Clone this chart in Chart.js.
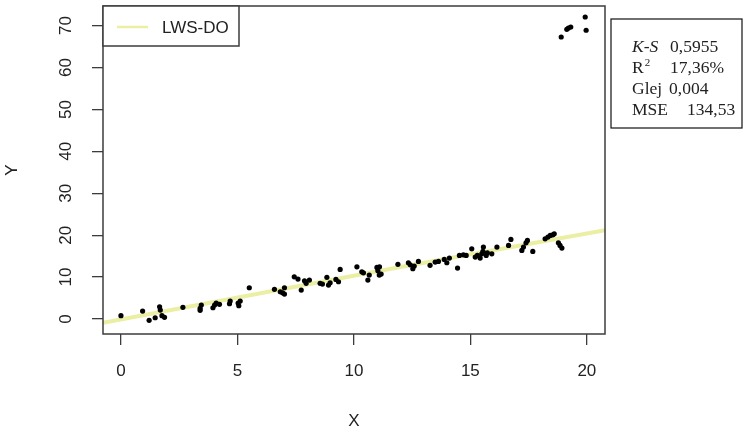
<!DOCTYPE html>
<html>
<head>
<meta charset="utf-8">
<script src="https://cdn.jsdelivr.net/npm/chart.js@4.4.1/dist/chart.umd.min.js"></script>
<style>
body { margin: 0; background: #fff; }
#grafico { display: block; }
</style>
</head>
<body>
<canvas id="grafico" width="748" height="432"></canvas>
<script>
// Pontos observados
const pontosX = [0.00, 0.93, 1.21, 1.47, 1.66, 1.69, 1.76, 1.87, 2.66, 3.40, 3.40, 3.45, 3.95, 4.02, 4.09, 4.23,
    4.66, 4.69, 5.03, 5.12, 5.06, 5.51, 6.59, 6.84, 6.94, 7.02, 7.02, 7.44, 7.60, 7.74, 7.88, 7.95, 8.09,
    8.55, 8.65, 8.84, 8.91, 8.98, 9.23, 9.34, 9.41, 10.13, 10.34, 10.41, 10.60, 10.66, 10.99, 11.03, 11.09,
    11.17, 11.10, 11.89, 12.34, 12.42, 12.53, 12.59, 12.77, 13.27, 13.49, 13.63, 13.88, 13.99, 14.10, 14.45,
    14.53, 14.70, 14.82, 15.06, 15.21, 15.30, 15.42, 15.49, 15.54, 15.56, 15.68, 15.73, 15.92, 16.14, 16.64,
    16.74, 17.21, 17.28, 17.39, 17.45, 17.68, 18.21, 18.33, 18.43, 18.54, 18.60, 18.78, 18.85, 18.93,
    18.90, 19.14, 19.21, 19.31, 19.93, 19.97];
const pontosY = [0.79, 1.90, -0.30, 0.31, 2.93, 2.14, 0.79, 0.40, 2.79, 2.55, 2.07, 3.34, 2.69, 3.34, 3.81, 3.50,
    3.65, 4.29, 3.81, 4.29, 3.17, 7.46, 7.08, 6.51, 6.27, 5.96, 7.46, 10.08, 9.53, 6.91, 9.13, 8.51, 9.29,
    8.51, 8.34, 9.94, 8.10, 8.65, 9.46, 8.89, 11.84, 12.46, 11.27, 11.03, 9.29, 10.49, 12.32, 11.51, 10.49,
    10.72, 12.46, 13.04, 13.42, 12.94, 11.99, 12.63, 13.75, 12.80, 13.58, 13.75, 14.23, 13.42, 14.54, 12.15,
    15.18, 15.32, 15.18, 16.75, 14.78, 15.18, 14.54, 15.56, 16.13, 17.16, 15.18, 15.80, 15.56, 17.16, 17.56,
    18.99, 16.37, 17.16, 18.18, 18.76, 16.13, 19.14, 19.54, 19.95, 20.09, 20.33, 18.18, 17.56, 16.92,
    67.28, 69.11, 69.42, 69.66, 72.05, 68.88];

// Curva ajustada (LWS-DO)
const ajusteX = [-0.77, 12.0, 20.78];
const ajusteY = [-0.88, 12.4, 21.2];

// Marcas dos eixos
const ticksX = [0, 5, 10, 15, 20];
const ticksY = [0, 10, 20, 30, 40, 50, 60, 70];

// Quadro de estatísticas
const estatNomes = ['K-S', 'R', 'Glej', 'MSE'];
const estatValores = ['0,5955', '17,36%', '0,004', '134,53'];

const corEixo = '#3c3c3c';
const corTexto = '#222';
const corAjuste = '#ebefa4';
const fonteSans = "'Liberation Sans', Arial, sans-serif";
const fonteSerif = "'Liberation Serif', 'Times New Roman', serif";

// Moldura da área do gráfico
const moldura = {
    id: 'moldura',
    afterDraw(chart) {
        const { ctx, chartArea: a } = chart;
        ctx.save();
        ctx.strokeStyle = corEixo;
        ctx.lineWidth = 1.5;
        ctx.strokeRect(a.left, a.top, a.right - a.left, a.bottom - a.top);
        ctx.restore();
    }
};

// Legenda dentro do gráfico, canto superior esquerdo
const legenda = {
    id: 'legenda',
    afterDraw(chart) {
        const { ctx, chartArea: a } = chart;
        const ds = chart.data.datasets[1];
        ctx.save();
        ctx.fillStyle = '#fff';
        ctx.fillRect(a.left, a.top, 136, 40);
        ctx.strokeStyle = corEixo;
        ctx.lineWidth = 1.5;
        ctx.strokeRect(a.left, a.top, 136, 40);
        ctx.strokeStyle = ds.borderColor;
        ctx.lineWidth = 2.5;
        ctx.beginPath();
        ctx.moveTo(a.left + 14, a.top + 21);
        ctx.lineTo(a.left + 45, a.top + 21);
        ctx.stroke();
        ctx.fillStyle = corTexto;
        ctx.font = '17px ' + fonteSans;
        ctx.textBaseline = 'middle';
        ctx.fillText(ds.label, a.left + 59, a.top + 22);
        ctx.restore();
    }
};

// Quadro com K-S, R2, Glej e MSE à direita
const quadroEstat = {
    id: 'quadroEstat',
    afterDraw(chart) {
        const ctx = chart.ctx;
        ctx.save();
        ctx.strokeStyle = '#111';
        ctx.lineWidth = 1.2;
        ctx.strokeRect(611, 19, 131, 109);
        ctx.fillStyle = corTexto;
        ctx.textBaseline = 'alphabetic';
        const xValor = [670, 670, 669, 687];
        estatNomes.forEach((nome, i) => {
            const y = 51.5 + i * 21;
            ctx.font = (i === 0 ? 'italic ' : '') + '17.5px ' + fonteSerif;
            ctx.fillText(nome, 632, y);
            if (i === 1) {
                const w = ctx.measureText(nome).width;
                ctx.font = '11px ' + fonteSerif;
                ctx.fillText('2', 632 + w + 1, y - 7);
            }
            ctx.font = '17.5px ' + fonteSerif;
            ctx.fillText(estatValores[i], xValor[i], y);
        });
        ctx.restore();
    }
};

const ctx = document.getElementById('grafico').getContext('2d');
new Chart(ctx, {
    type: 'scatter',
    data: {
        datasets: [{
            label: 'pontos',
            data: pontosX.map((x, i) => ({ x: x, y: pontosY[i] })),
            backgroundColor: '#000',
            borderWidth: 0,
            pointRadius: 2.6,
            pointHoverRadius: 2.6
        }, {
            label: 'LWS-DO',
            data: ajusteX.map((x, i) => ({ x: x, y: ajusteY[i] })),
            showLine: true,
            borderColor: corAjuste,
            borderWidth: 4,
            pointRadius: 0,
            tension: 0
        }]
    },
    options: {
        responsive: false,
        devicePixelRatio: 1,
        animation: false,
        layout: { padding: { top: 6, right: 143, bottom: 0, left: 0 } },
        plugins: {
            legend: { display: false },
            tooltip: { enabled: false }
        },
        scales: {
            x: {
                type: 'linear',
                position: 'bottom',
                min: -0.77,
                max: 20.78,
                afterFit: s => {
                    s.height = 98;
                    s.paddingLeft = 0;
                    s.paddingRight = 0;
                },
                afterBuildTicks: s => { s.ticks = ticksX.map(v => ({ value: v })); },
                grid: { drawOnChartArea: false, drawTicks: true, tickLength: 11, color: corEixo, lineWidth: 1.3 },
                border: { display: false },
                ticks: {
                    color: corTexto,
                    font: { family: fonteSans, size: 17 },
                    padding: 16,
                    maxRotation: 0,
                    autoSkip: false
                },
                title: {
                    display: true,
                    text: 'X',
                    color: corTexto,
                    font: { family: fonteSans, size: 17 },
                    padding: { top: 0, bottom: 0 }
                }
            },
            y: {
                type: 'linear',
                min: -3.57,
                max: 74.67,
                afterFit: s => {
                    s.width = 103;
                    s.paddingTop = 0;
                    s.paddingBottom = 0;
                },
                afterBuildTicks: s => { s.ticks = ticksY.map(v => ({ value: v })); },
                grid: { drawOnChartArea: false, drawTicks: true, tickLength: 11, color: corEixo, lineWidth: 1.3 },
                border: { display: false },
                ticks: {
                    color: corTexto,
                    font: { family: fonteSans, size: 17 },
                    padding: 16,
                    minRotation: 90,
                    maxRotation: 90,
                    crossAlign: 'center',
                    autoSkip: false
                },
                title: {
                    display: true,
                    text: 'Y',
                    color: corTexto,
                    font: { family: fonteSans, size: 17 },
                    padding: { top: 2, bottom: 0 }
                }
            }
        }
    },
    plugins: [moldura, legenda, quadroEstat]
});
</script>
</body>
</html>
